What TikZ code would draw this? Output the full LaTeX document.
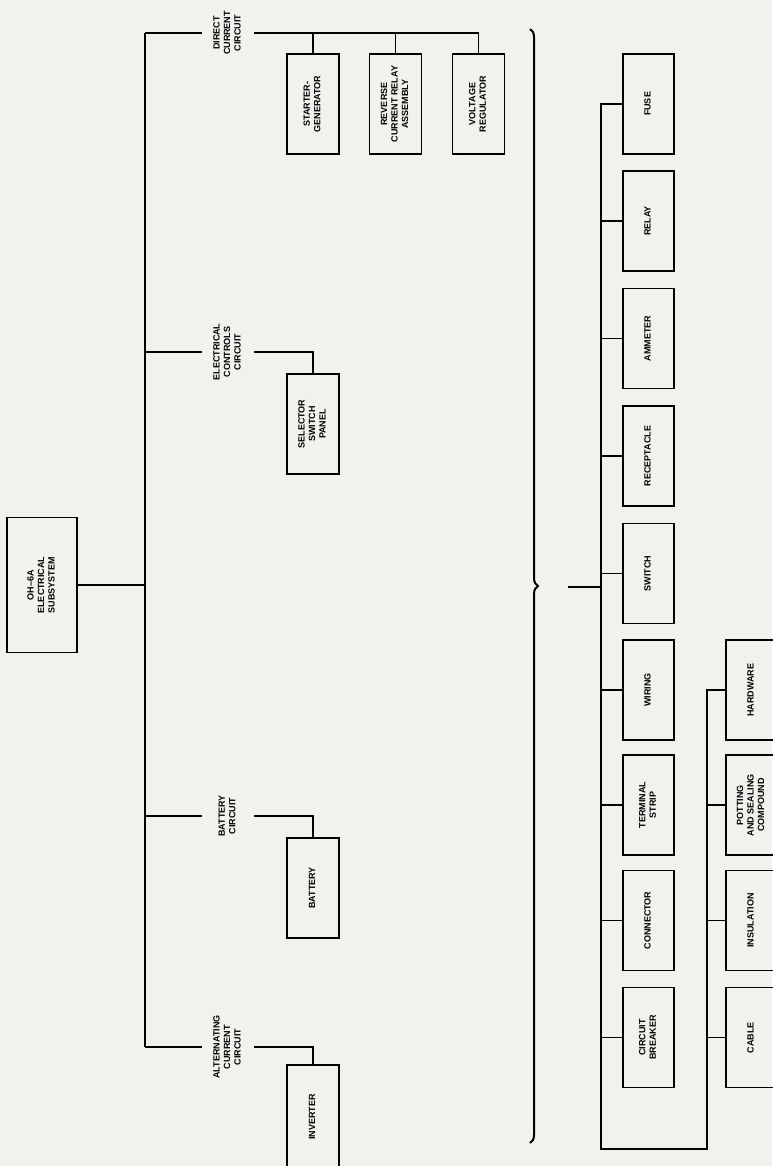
\documentclass[tikz,border=0pt]{standalone}
\usepackage{fontspec}
\setmainfont{Liberation Sans}
\usetikzlibrary{decorations.pathreplacing}

\definecolor{paper}{RGB}{241,241,238}
\newcommand{\vtxt}[1]{\rotatebox{90}{\begin{tabular}{@{}c@{}}#1\end{tabular}}}
\tikzset{
  ln/.style={line width=1.1pt},
  unit/.style={draw, line width=1.5pt, minimum width=52pt, minimum height=100pt, inner sep=0pt,
    font=\fontsize{9}{10.5}\selectfont\bfseries},
  circ/.style={minimum width=52pt, inner sep=0pt, font=\fontsize{9}{10.5}\selectfont\bfseries}
}

\begin{document}
\begin{tikzpicture}[x=1pt,y=-1pt]
\useasboundingbox (0,0) rectangle (772,1166);
\fill[paper] (0,0) rectangle (772,1166);
% subsystem and its circuits
\node[unit, minimum width=70pt, minimum height=135pt] (sys) at (42,585) {\vtxt{OH--6A\\ELECTRICAL\\SUBSYSTEM}};
\coordinate (busT) at (145,33);
\coordinate (busB) at (145,1047);
\node[circ] (dc) at (228,33) {\vtxt{DIRECT\\CURRENT\\CIRCUIT}};
\node[circ] (ec) at (228,352) {\vtxt{ELECTRICAL\\CONTROLS\\CIRCUIT}};
\node[circ] (bc) at (228,816) {\vtxt{BATTERY\\CIRCUIT}};
\node[circ] (ac) at (228,1047) {\vtxt{ALTERNATING\\CURRENT\\CIRCUIT}};
\node[unit] (sgen) at (313,104) {\vtxt{STARTER-\\GENERATOR}};
\node[unit] (rcr) at (395.5,104) {\vtxt{REVERSE\\CURRENT RELAY\\ASSEMBLY}};
\node[unit] (vreg) at (478.5,104) {\vtxt{VOLTAGE\\REGULATOR}};
\node[unit] (ssp) at (313,424) {\vtxt{SELECTOR\\SWITCH\\PANEL}};
\node[unit] (bat) at (313,888) {\vtxt{BATTERY}};
\node[unit, minimum height=104pt] (inv) at (313,1117) {\vtxt{INVERTER}};
\draw[ln] (sys.east) -- (sys.east -| busT);
\draw[ln] (busT) -- (busB);
\draw[ln] (busT) -- (dc.west);
\draw[ln] (dc.east) -| (vreg.north);
\draw[ln] (sgen.north) -- (sgen.north |- dc.east);
\draw[ln] (rcr.north) -- (rcr.north |- dc.east);
\draw[ln] (ec.west -| busT) -- (ec.west);
\draw[ln] (ec.east) -| (ssp.north);
\draw[ln] (bc.west -| busT) -- (bc.west);
\draw[ln] (bc.east) -| (bat.north);
\draw[ln] (busB) -- (ac.west);
\draw[ln] (ac.east) -| (inv.north);
% common parts
\draw[line width=2pt, decorate, decoration={brace, amplitude=8pt}] (530,29) -- (530,1143);
\coordinate (tail) at (568,587);
\coordinate (busA) at (601,1149);
\coordinate (busC) at (707,1149);
\node[unit, minimum width=51pt] (fuse) at (648.5,104) {\vtxt{FUSE}};
\node[unit, minimum width=51pt] (relay) at (648.5,221) {\vtxt{RELAY}};
\node[unit, minimum width=51pt] (amm) at (648.5,338.5) {\vtxt{AMMETER}};
\node[unit, minimum width=51pt] (rcpt) at (648.5,456) {\vtxt{RECEPTACLE}};
\node[unit, minimum width=51pt] (sw) at (648.5,573.5) {\vtxt{SWITCH}};
\node[unit, minimum width=51pt] (wire) at (648.5,690) {\vtxt{WIRING}};
\node[unit, minimum width=51pt] (term) at (648.5,805) {\vtxt{TERMINAL\\STRIP}};
\node[unit, minimum width=51pt] (conn) at (648.5,920.5) {\vtxt{CONNECTOR}};
\node[unit, minimum width=51pt] (cb) at (648.5,1037.5) {\vtxt{CIRCUIT\\BREAKER}};
\node[unit, minimum width=51pt] (hw) at (751.5,690) {\vtxt{HARDWARE}};
\node[unit, minimum width=51pt] (pot) at (751.5,805) {\vtxt{POTTING\\AND SEALING\\COMPOUND}};
\node[unit, minimum width=51pt] (ins) at (751.5,920.5) {\vtxt{INSULATION}};
\node[unit, minimum width=51pt] (cab) at (751.5,1037.5) {\vtxt{CABLE}};
\draw[ln] (tail) -- (tail -| busA);
\draw[ln] (fuse.west) -| (busA) -- (busC) |- (hw.west);
\foreach \n in {relay,amm,rcpt,sw,wire,term,conn,cb}
  \draw[ln] (\n.west) -- (\n.west -| busA);
\foreach \n in {pot,ins,cab}
  \draw[ln] (\n.west) -- (\n.west -| busC);
\end{tikzpicture}
\end{document}
